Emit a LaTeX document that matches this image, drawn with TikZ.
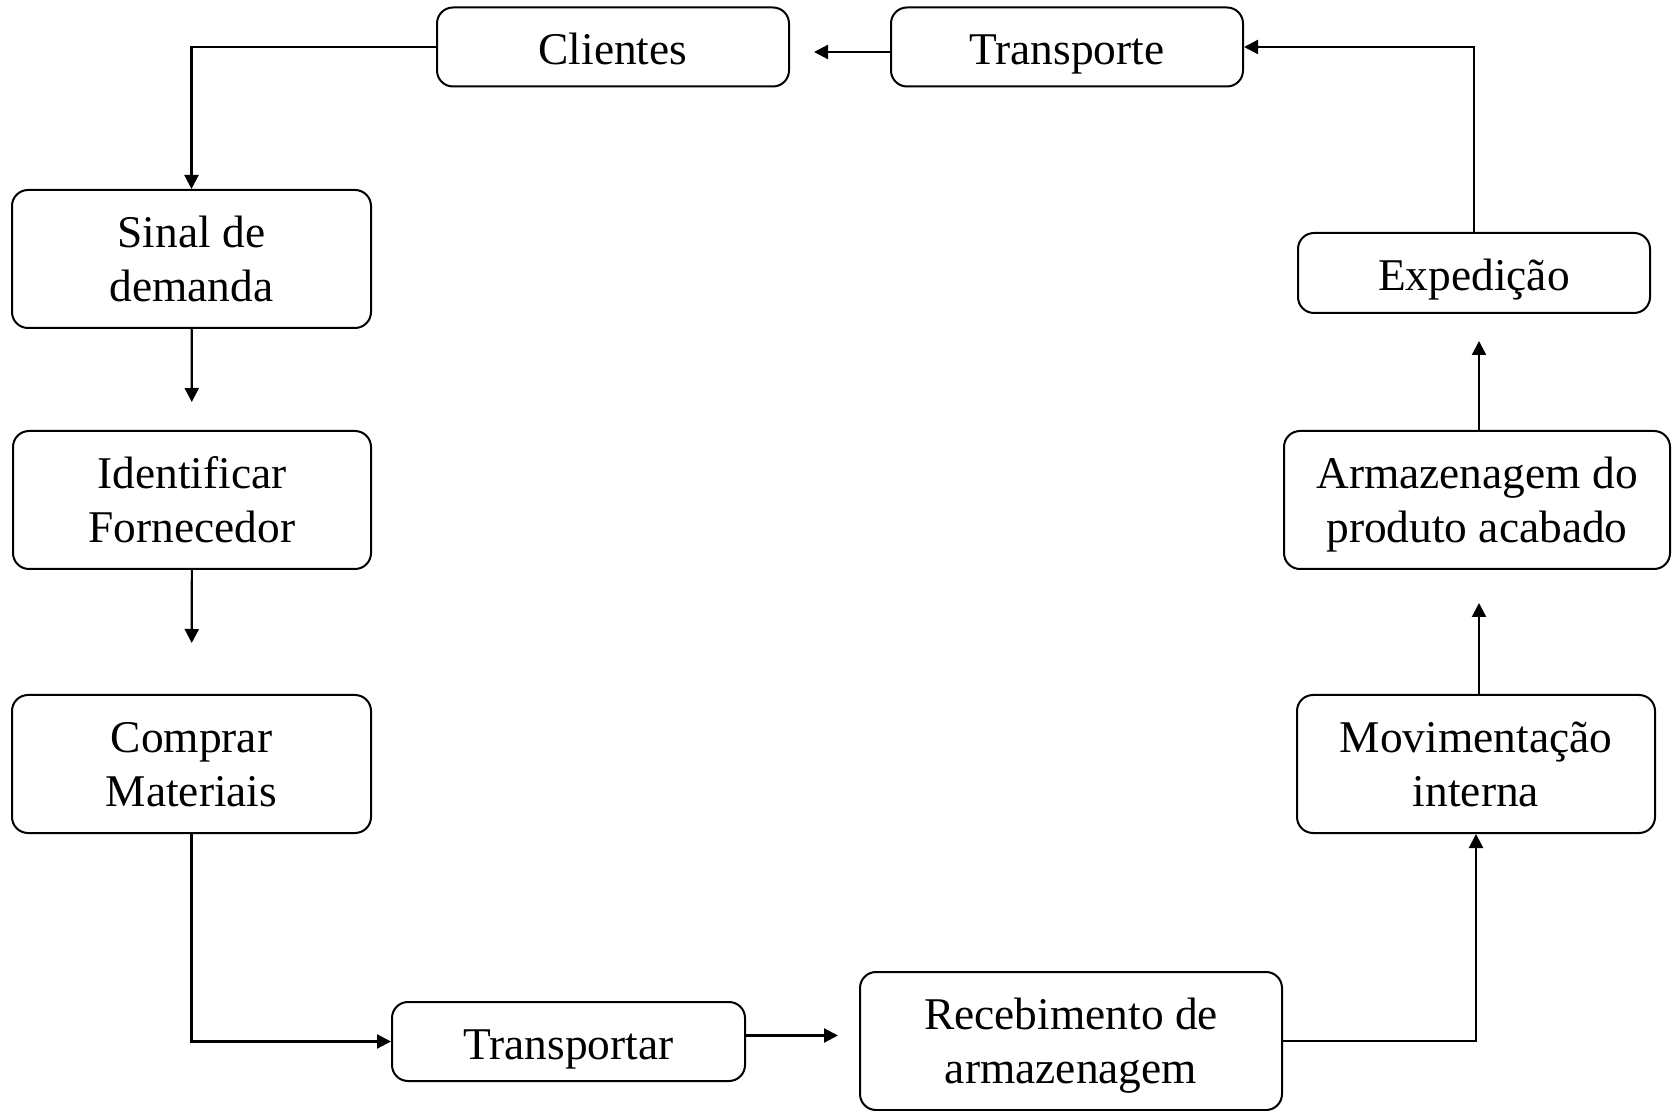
\documentclass[tikz,border=0pt]{standalone}
\usepackage{fontspec}
\setmainfont{Liberation Serif}
\usepackage{tikz}
\usetikzlibrary{arrows.meta}

\tikzset{
    caixa/.style={draw, line width=1pt, rounded corners=8pt, align=center,
        inner sep=0pt, minimum height=39.5pt,
        font=\fontsize{22.7}{27}\selectfont},
    caixabaixa/.style={caixa, text height=20pt, text depth=2pt},
    caixaalta/.style={caixa, minimum height=69pt, text depth=-2pt},
    seta/.style={-{Triangle[length=7pt,width=7pt]}, line width=1.1pt}
}

\begin{document}
\begin{tikzpicture}[x=0.5pt,y=-0.5pt]
    \useasboundingbox (0,0) rectangle (1675,1111);
    % linha de cima
    \node[caixabaixa, minimum width=176pt] (clientes) at (613,47) {Clientes};
    \node[caixabaixa, minimum width=176pt] (transporte) at (1067,47) {Transporte};
    % coluna da esquerda
    \node[caixaalta, minimum width=179.5pt] (sinal) at (191.5,259) {Sinal de\\demanda};
    \node[caixaalta, minimum width=179pt] (identificar) at (192,500) {Identificar\\Fornecedor};
    \node[caixaalta, minimum width=179.5pt] (comprar) at (191.5,764) {Comprar\\Materiais};
    % linha de baixo
    \node[caixabaixa, minimum width=176.5pt] (transportar) at (568.5,1041.5) {Transportar};
    \node[caixaalta, minimum width=211pt] (recebimento) at (1071,1041) {Recebimento de\\armazenagem};
    % coluna da direita
    \node[caixaalta, minimum width=179pt] (movimentacao) at (1476,764) {Movimentação\\interna};
    \node[caixaalta, minimum width=193pt] (armazenagem) at (1477,500) {Armazenagem do\\produto acabado};
    \node[caixabaixa, minimum width=176pt, minimum height=40pt] (expedicao) at (1474,273) {Expedição};

    % setas
    \draw[seta] (clientes.west) -| (sinal.north);
    \draw[seta, shorten >=14pt] (sinal) -- (identificar);
    \draw[seta, shorten >=25.5pt] (identificar) -- (comprar);
    \draw[seta] (comprar.south) |- (transportar.west);
    \draw[seta, shorten >=10.5pt] ([yshift=3pt]transportar.east) -- ([yshift=3pt]transportar.east -| recebimento.west);
    \draw[seta] (recebimento.east) -| (movimentacao.south);
    \draw[seta, shorten >=16.5pt] ([xshift=1.5pt]movimentacao.north) -- ([xshift=1.5pt]movimentacao.north |- armazenagem.south);
    \draw[seta, shorten >=13.5pt] ([xshift=1pt]armazenagem.north) -- ([xshift=1pt]armazenagem.north |- expedicao.south);
    \draw[seta] (expedicao.north) |- (transporte.east);
    \draw[seta, shorten >=12pt] ([yshift=-2.5pt]transporte.west) -- ([yshift=-2.5pt]transporte.west -| clientes.east);
\end{tikzpicture}
\end{document}
